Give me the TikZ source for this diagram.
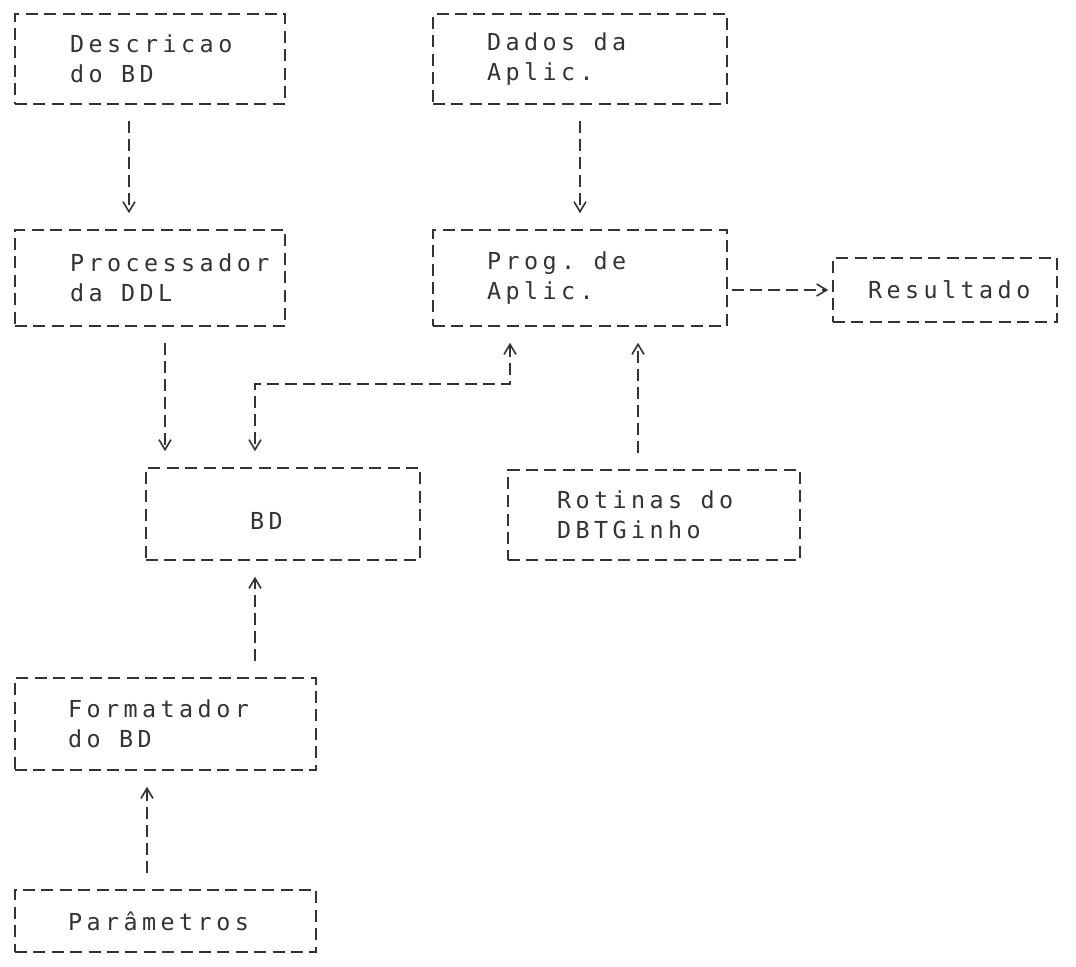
\documentclass[tikz,border=0pt]{standalone}
\usepackage{fontspec}
\usepackage{tikz}
\usetikzlibrary{arrows.meta}
\newfontfamily\termfont{DejaVu Sans Mono}[LetterSpace=19]
\definecolor{ink}{HTML}{333333}
\newcommand\wsp{\hspace*{9.2pt}}

\begin{document}
\begin{tikzpicture}[
    x=0.5pt, y=-0.5pt,
    box/.style={draw=ink, line width=0.8pt, dash pattern=on 6pt off 3.2pt, text=ink, align=left, inner ysep=0pt, font=\termfont\fontsize{11.7pt}{15pt}\selectfont},
    link/.style={draw=ink, line width=0.8pt, dash pattern=on 6pt off 3pt, -{Straight Barb[length=5pt, width=6pt]}, shorten <=8pt, shorten >=8pt}
]
    \useasboundingbox (0,0) rectangle (1076,966);
    % boxes
    \node[box, minimum width=135pt, minimum height=45pt, text width=80pt, inner xsep=27.5pt] (desc) at (150,59) {Descricao\\do\wsp BD};
    \node[box, minimum width=147pt, minimum height=45pt, text width=93pt, inner xsep=27pt] (dados) at (580,59) {Dados\wsp da\\Aplic.};
    \node[box, minimum width=135pt, minimum height=48pt, text width=80pt, inner xsep=27.5pt] (proc) at (150,278) {Processador\\da\wsp DDL};
    \node[box, minimum width=147pt, minimum height=48pt, text width=93pt, inner xsep=27pt] (prog) at (580,278) {Prog.\wsp de\\Aplic.};
    \node[box, minimum width=112pt, minimum height=32pt, text width=77pt, inner xsep=17.5pt] (result) at (945,290) {Resultado};
    \node[box, minimum width=137pt, minimum height=46pt, text width=33pt, inner xsep=52pt] (bd) at (283,514) {\mbox{}\\BD};
    \node[box, minimum width=146pt, minimum height=45pt, text width=97pt, inner xsep=24.5pt] (rot) at (654,515) {Rotinas\wsp do\\DBTGinho};
    \node[box, minimum width=150.5pt, minimum height=46pt, text width=97.5pt, inner xsep=26.5pt] (fmt) at (165.5,724) {Formatador\\do\wsp BD};
    \node[box, minimum width=150.5pt, minimum height=31pt, text width=97.5pt, inner xsep=26.5pt] (par) at (165.5,921) {Parâmetros};
    % connectors
    \draw[link] ([xshift=-10.5pt]desc.south) -- ([xshift=-10.5pt]proc.north);
    \draw[link] (dados.south) -- (prog.north);
    \draw[link] ([xshift=7.5pt]proc.south) -- ([xshift=-59pt]bd.north);
    \draw[link, {Straight Barb[length=5pt, width=6pt]}-{Straight Barb[length=5pt, width=6pt]}] ([xshift=-35pt]prog.south) -- ++(0,-28.5pt) -| ([xshift=-14pt]bd.north);
    \draw[link] ([xshift=-8pt]rot.north) -- ([xshift=29pt]prog.south);
    \draw[link, shorten <=2pt, shorten >=2pt] ([yshift=-6pt]prog.east) -- (result.west);
    \draw[link] ([xshift=44.75pt]fmt.north) -- ([xshift=-14pt]bd.south);
    \draw[link] ([xshift=-9.25pt]par.north) -- ([xshift=-9.25pt]fmt.south);
\end{tikzpicture}
\end{document}
